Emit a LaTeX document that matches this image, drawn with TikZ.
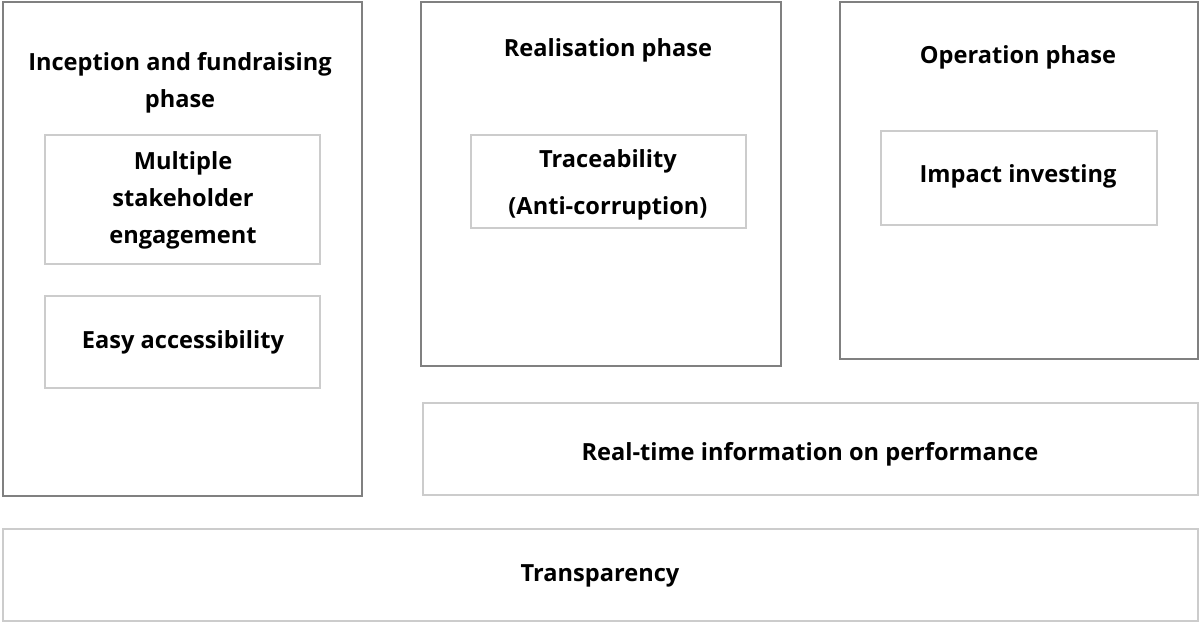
\documentclass[tikz,border=0pt]{standalone}
\usepackage{fontspec}
\setmainfont{Open Sans}
\begin{document}
\begin{tikzpicture}[x=1pt,y=-1pt,
  phasebox/.style={draw=black!50,line width=1.3pt},
  innerbox/.style={draw=black!20,line width=1.3pt},
  lbl/.style={font=\bfseries\fontsize{23.6}{37}\selectfont,align=center,inner sep=0pt}]
\useasboundingbox (0,0) rectangle (1200,623);
\draw[phasebox] (3,2) rectangle (362,496);
\draw[phasebox] (421,2) rectangle (781,366);
\draw[phasebox] (840,2) rectangle (1198,359);
\draw[innerbox] (45,135) rectangle (320,264);
\draw[innerbox] (45,296) rectangle (320,388);
\draw[innerbox] (471,135) rectangle (746,228);
\draw[innerbox] (881,131) rectangle (1157,225);
\draw[innerbox] (423,403) rectangle (1198,495);
\draw[innerbox] (3,529) rectangle (1198,621);
\node[lbl] (p1) at (180,83) {Inception and fundraising\\phase};
\node[lbl] (p2) at (608,50) {Realisation phase};
\node[lbl] (p3) at (1018,57) {Operation phase};
\node[lbl] (i1) at (183,200) {Multiple\\stakeholder\\engagement};
\node[lbl] (i2) at (183,342) {Easy accessibility};
\node[lbl,font=\bfseries\fontsize{23.6}{47}\selectfont] (i3) at (608,185) {Traceability\\(Anti-corruption)};
\node[lbl] (i4) at (1018,176) {Impact investing};
\node[lbl] (r) at (810,454) {Real-time information on performance};
\node[lbl] (t) at (600,576) {Transparency};
\end{tikzpicture}
\end{document}
